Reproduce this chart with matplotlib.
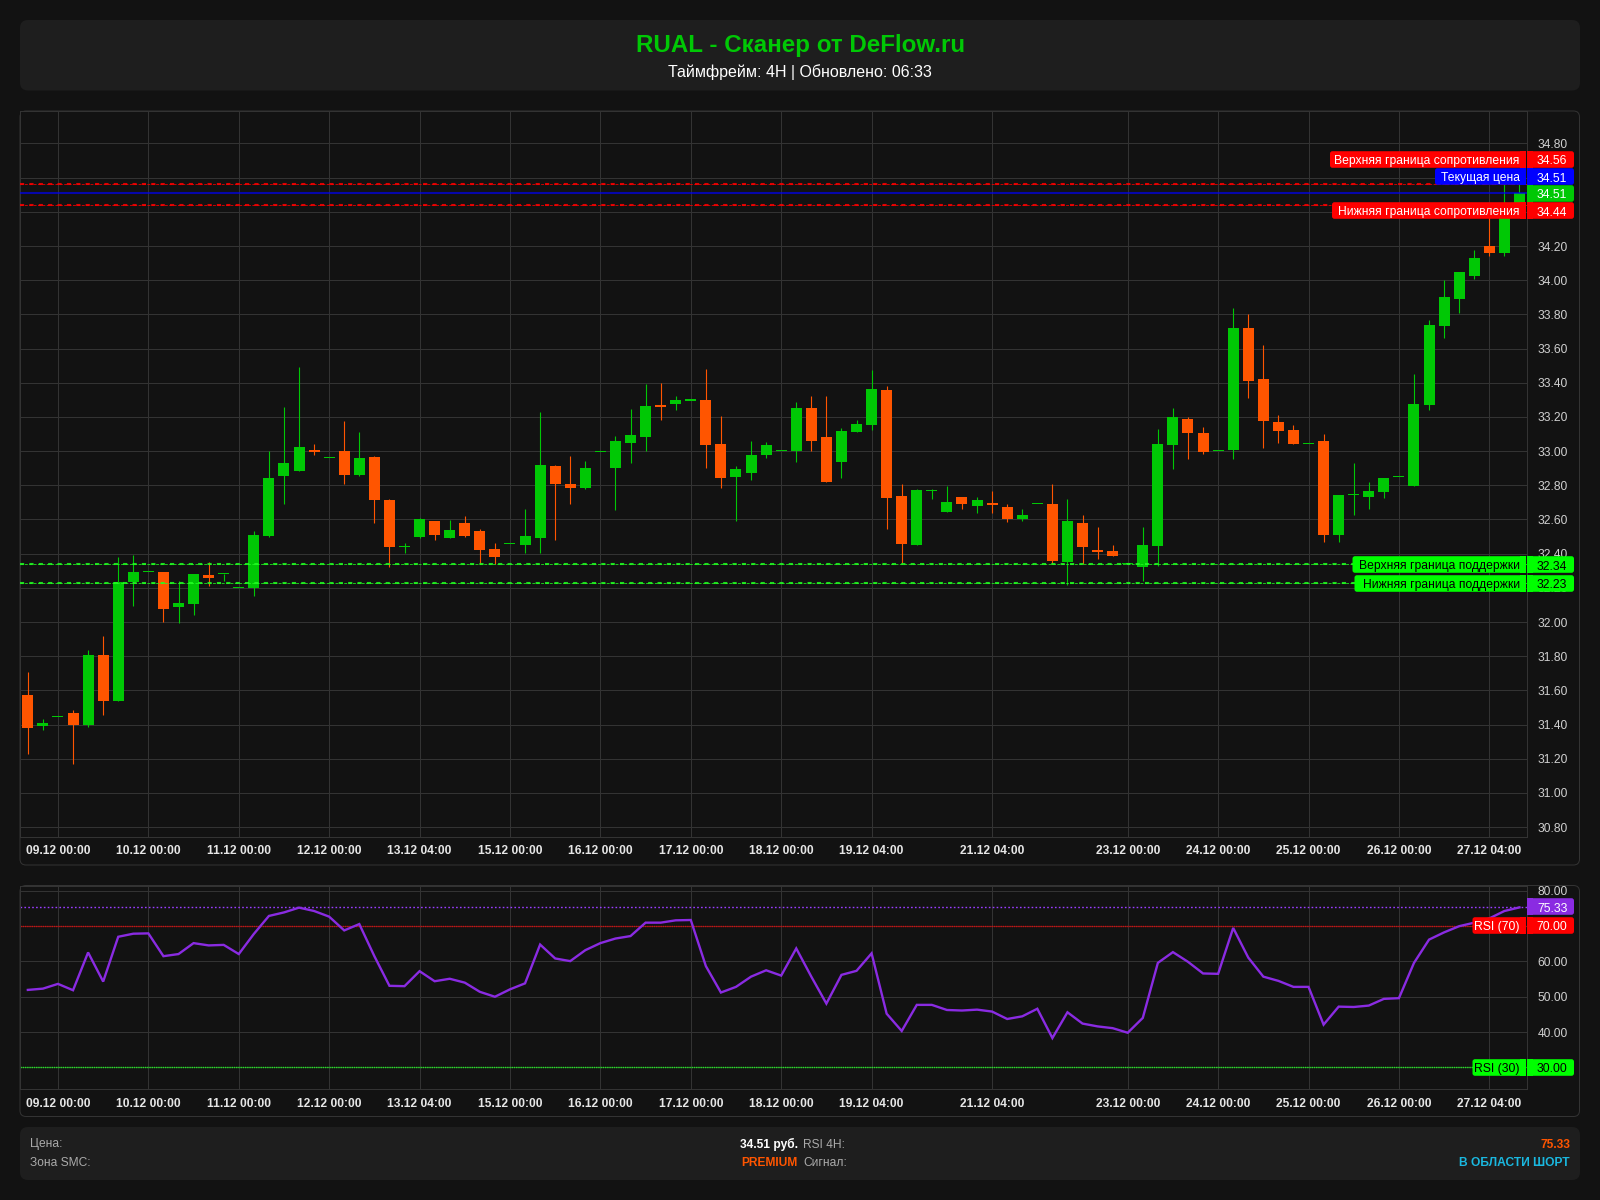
import matplotlib
matplotlib.use('Agg')
import matplotlib.pyplot as plt
from matplotlib.patches import FancyBboxPatch, Rectangle
from matplotlib.transforms import Bbox
import numpy as np

plt.rcParams['font.family'] = ['Liberation Sans', 'DejaVu Sans']

W, H = 1600, 1200
BG = '#121212'
PANEL = '#1e1e1e'
GRID = '#333333'
GREEN = '#00c805'
ORANGE = '#ff5500'
PURPLE = '#8a2be2'

tick_pos = [2, 8, 14, 20, 26, 32, 38, 44, 50, 56, 64, 73, 79, 85, 91, 97]
tick_labels = ['09.12 00:00', '10.12 00:00', '11.12 00:00', '12.12 00:00', '13.12 04:00',
               '15.12 00:00', '16.12 00:00', '17.12 00:00', '18.12 00:00', '19.12 04:00',
               '21.12 04:00', '23.12 00:00', '24.12 00:00', '25.12 00:00', '26.12 00:00',
               '27.12 04:00']

opens = [31.57, 31.39, 31.445, 31.47, 31.40, 31.806, 31.54, 32.234, 32.29, 32.293,
         32.087, 32.105, 32.275, 32.279, 32.20, 32.20, 32.504, 32.856, 32.885, 33.008,
         32.96, 33.00, 32.862, 32.967, 32.715, 32.44, 32.498, 32.592, 32.492, 32.58,
         32.533, 32.428, 32.455, 32.45, 32.494, 32.91, 32.805, 32.787, 32.996, 32.904,
         33.045, 33.08, 33.268, 33.274, 33.295, 33.297, 33.039, 32.846, 32.869, 32.98,
         33.002, 32.998, 33.25, 33.08, 32.939, 33.11, 33.151, 33.356, 32.74, 32.453,
         32.767, 32.646, 32.734, 32.676, 32.699, 32.675, 32.60, 32.691, 32.693, 32.353,
         32.582, 32.424, 32.418, 32.341, 32.324, 32.447, 33.034, 33.186, 33.104, 33.00,
         33.004, 33.72, 33.421, 33.168, 33.122, 33.043, 33.057, 32.512, 32.744, 32.734,
         32.758, 32.85, 32.793, 33.268, 33.732, 33.89, 34.025, 34.20, 34.159, 34.44]
closes = [31.38, 31.41, 31.445, 31.395, 31.806, 31.54, 32.234, 32.293, 32.29, 32.076,
          32.11, 32.281, 32.257, 32.279, 32.20, 32.51, 32.844, 32.932, 33.026, 32.997,
          32.96, 32.862, 32.961, 32.715, 32.44, 32.44, 32.60, 32.51, 32.539, 32.504,
          32.422, 32.381, 32.455, 32.504, 32.916, 32.805, 32.787, 32.904, 32.996, 33.057,
          33.092, 33.262, 33.256, 33.297, 33.295, 33.033, 32.84, 32.893, 32.975, 33.033,
          33.002, 33.25, 33.057, 32.822, 33.115, 33.156, 33.362, 32.728, 32.459, 32.775,
          32.767, 32.705, 32.693, 32.711, 32.687, 32.60, 32.629, 32.691, 32.359, 32.593,
          32.441, 32.412, 32.388, 32.341, 32.453, 33.039, 33.198, 33.104, 32.992, 33.00,
          33.72, 33.409, 33.174, 33.116, 33.039, 33.043, 32.512, 32.746, 32.744, 32.764,
          32.84, 32.85, 33.274, 33.737, 33.902, 34.048, 34.13, 34.159, 34.44, 34.51]
highs = [31.706, 31.435, 31.445, 31.487, 31.835, 31.917, 32.379, 32.394, 32.29, 32.293,
         32.238, 32.281, 32.35, 32.279, 32.20, 32.533, 33.00, 33.26, 33.49, 33.04,
         32.96, 33.177, 33.112, 32.973, 32.721, 32.46, 32.61, 32.592, 32.598, 32.62,
         32.545, 32.463, 32.455, 32.662, 33.231, 32.92, 32.973, 32.94, 32.996, 33.09,
         33.244, 33.391, 33.397, 33.32, 33.295, 33.479, 33.203, 32.91, 33.057, 33.051,
         33.002, 33.286, 33.321, 33.321, 33.133, 33.18, 33.473, 33.379, 32.81, 32.781,
         32.781, 32.793, 32.734, 32.734, 32.769, 32.693, 32.664, 32.691, 32.805, 32.722,
         32.629, 32.553, 32.453, 32.341, 32.553, 33.127, 33.251, 33.198, 33.139, 33.00,
         33.835, 33.802, 33.62, 33.21, 33.151, 33.043, 33.098, 32.746, 32.928, 32.817,
         32.84, 32.85, 33.45, 33.767, 34.00, 34.048, 34.177, 34.40, 34.56, 34.56]
lows = [31.225, 31.37, 31.445, 31.167, 31.385, 31.454, 31.536, 32.093, 32.29, 32.00,
        31.996, 32.043, 32.21, 32.24, 32.20, 32.15, 32.496, 32.692, 32.885, 32.98,
        32.96, 32.809, 32.856, 32.578, 32.324, 32.404, 32.49, 32.48, 32.492, 32.498,
        32.34, 32.34, 32.455, 32.404, 32.402, 32.482, 32.693, 32.781, 32.996, 32.658,
        32.928, 32.998, 33.18, 33.239, 33.295, 32.904, 32.787, 32.593, 32.828, 32.957,
        33.002, 32.934, 33.00, 32.822, 32.84, 33.11, 33.121, 32.546, 32.345, 32.453,
        32.717, 32.646, 32.664, 32.635, 32.635, 32.588, 32.593, 32.691, 32.341, 32.218,
        32.342, 32.371, 32.388, 32.341, 32.242, 32.33, 32.893, 32.951, 32.981, 33.00,
        32.951, 33.309, 33.016, 33.045, 33.039, 33.043, 32.47, 32.47, 32.629, 32.664,
        32.723, 32.85, 32.793, 33.239, 33.664, 33.806, 34.007, 34.144, 34.144, 34.42]

rsi = [51.94, 52.3, 53.65, 51.85, 62.56, 54.3, 67.0, 67.87, 67.96, 61.5,
       62.1, 65.2, 64.55, 64.7, 62.1, 67.8, 72.9, 73.9, 75.26, 74.3,
       72.7, 68.8, 70.6, 61.5, 53.1, 53.0, 57.25, 54.4, 55.1, 54.0,
       51.4, 50.0, 52.1, 53.8, 64.8, 60.85, 60.1, 63.2, 65.2, 66.5,
       67.2, 71.0, 71.0, 71.66, 71.75, 58.7, 51.2, 52.8, 55.7, 57.5,
       56.0, 63.7, 55.7, 48.06, 56.2, 57.35, 62.3, 45.2, 40.3, 47.7,
       47.7, 46.25, 46.1, 46.35, 45.8, 43.7, 44.45, 46.6, 38.3, 45.6,
       42.4, 41.6, 41.1, 39.8, 44.0, 59.6, 62.65, 59.9, 56.6, 56.5,
       69.5, 61.1, 55.7, 54.5, 52.8, 52.8, 42.1, 47.2, 47.1, 47.5,
       49.4, 49.6, 59.6, 66.2, 68.25, 70.0, 71.0, 72.2, 74.3, 75.33]

resist_levels = [34.56, 34.44]
support_levels = [32.34, 32.23]
current_price = 34.51
price_ticks = [30.8 + 0.2 * k for k in range(21)]
rsi_ticks = [30, 40, 50, 60, 70, 80]

fig = plt.figure(figsize=(16, 12), dpi=100, facecolor=BG)


def add_pane(left, top, right, bottom, z=1):
    return fig.add_axes([left / W, 1 - bottom / H, (right - left) / W, (bottom - top) / H], zorder=z)


bg = add_pane(0, 0, W, H, 0)
bg.set_xlim(0, W)
bg.set_ylim(H, 0)
bg.axis('off')
ov = add_pane(0, 0, W, H, 5)
ov.set_xlim(0, W)
ov.set_ylim(H, 0)
ov.axis('off')
ov.patch.set_alpha(0)


def box(ax, x0, y0, x1, y1, r, fc, ec='none', lw=0, z=1):
    ax.add_patch(FancyBboxPatch((x0 + r, y0 + r), x1 - x0 - 2 * r, y1 - y0 - 2 * r,
                                boxstyle='round,pad=%f,rounding_size=%f' % (r, r),
                                fc=fc, ec=ec, lw=lw, zorder=z))


# header, footer and chart frames
box(bg, 20, 20, 1580, 90.5, 8, PANEL)
box(bg, 20, 1127, 1580, 1180, 8, PANEL)
box(bg, 20, 111, 1579.5, 865, 6, BG, GRID, 0.72)
box(bg, 20, 885.5, 1579.5, 1116.5, 6, BG, GRID, 0.72)
bg.text(800, 45.5, 'RUAL - Сканер от DeFlow.ru', color=GREEN, fontsize=17.4, fontweight='bold', ha='center', va='center')
bg.text(800, 72, 'Таймфрейм: 4H | Обновлено: 06:33', color='white', fontsize=11.5, ha='center', va='center')

bg.text(30, 1144.5, 'Цена:', color='#aaaaaa', fontsize=8.64, va='center')
bg.text(30, 1163.5, 'Зона SMC:', color='#aaaaaa', fontsize=8.64, va='center')
bg.text(798, 1144.5, '34.51 руб.', color='white', fontsize=8.64, fontweight='bold', ha='right', va='center')
bg.text(798, 1163.5, 'PREMIUM', color=ORANGE, fontsize=8.64, fontweight='bold', ha='right', va='center')
bg.text(803, 1144.5, 'RSI 4H:', color='#aaaaaa', fontsize=8.64, va='center')
bg.text(803, 1163.5, 'Сигнал:', color='#aaaaaa', fontsize=8.64, va='center')
bg.text(1570, 1144.5, '75.33', color=ORANGE, fontsize=8.64, fontweight='bold', ha='right', va='center')
bg.text(1570, 1163.5, 'В ОБЛАСТИ ШОРТ', color='#1ab8e0', fontsize=8.64, fontweight='bold', ha='right', va='center')

ax = add_pane(20, 111, 1527.3, 837, 2)
ax2 = add_pane(20, 885.5, 1527.3, 1088.5, 2)
for a in (ax, ax2):
    a.set_facecolor(BG)
    a.set_xlim(-0.52, 99.52)
    a.set_xticks(tick_pos)
    a.set_xticklabels(tick_labels, fontweight='bold', fontsize=8.64, color='#e6e6e6')
    a.yaxis.tick_right()
    a.tick_params(axis='both', length=0)
    a.tick_params(axis='y', pad=7.2, labelsize=8.64, labelcolor='#d0d0d0')
    a.grid(True, color=GRID, lw=0.72)
    a.set_axisbelow(True)
    for s in a.spines.values():
        s.set_color(GRID)
        s.set_linewidth(0.72)
ax.tick_params(axis='x', pad=5.8)
ax2.tick_params(axis='x', pad=6.5)

ax.set_ylim(30.742, 34.99)
ax.set_yticks(price_ticks)
ax.set_yticklabels(['%.2f' % p for p in price_ticks])
ax2.set_ylim(24.0, 81.53)
ax2.set_yticks(rsi_ticks)
ax2.set_yticklabels(['%.2f' % r for r in rsi_ticks])
for lbl in ax2.get_yticklabels():
    lbl.set_clip_box(Bbox([[1527, H - 1117], [1580, H - 886]]))
    lbl.set_clip_on(True)

# candles
o = np.array(opens)
c = np.array(closes)
h = np.array(highs)
l = np.array(lows)
idx = np.arange(len(o))
cols = [GREEN if c[i] >= o[i] else ORANGE for i in idx]
ax.vlines(idx, l, h, colors=cols, lw=0.8, zorder=2)
ax.bar(idx, np.maximum(np.abs(c - o), 0.007), bottom=np.minimum(o, c), width=0.73, color=cols, lw=0, zorder=3)


def level(a, y, color, lw=1.5):
    a.axhline(y, color=color, lw=0.7, ls=(0, (3, 1.5)), alpha=0.75, zorder=4)
    a.axhline(y, color=color, lw=lw, ls=(0, (2, 2.5)), alpha=0.85, zorder=4)


for p in resist_levels:
    level(ax, p, '#ff0000')
ax.axhline(current_price, color='#0000ff', lw=1.5, alpha=0.65, zorder=4)
for p in support_levels:
    level(ax, p, '#22ff22')

# rsi pane
ax2.plot(idx, rsi, color=PURPLE, lw=1.7, zorder=3, solid_joinstyle='miter')
ax2.axhline(rsi[-1], color='#9a3cff', lw=1.0, ls=(0, (1.2, 1.6)), zorder=2)
ax2.axhline(70, color='#ff0000', lw=1.0, ls=(0, (1, 0.6)), alpha=0.8, zorder=2)
ax2.axhline(30, color='#22ff22', lw=1.0, ls=(0, (1, 0.6)), alpha=0.9, zorder=2)


def tag(x0, x1, yc, fc, text, tc, side):
    y0, y1 = yc - 8.3, yc + 8.3
    box(ov, x0, y0, x1, y1, 2.5, fc, z=6)
    if side == 'left':
        ov.add_patch(Rectangle((x1 - 6, y0), 6, y1 - y0, fc=fc, lw=0, zorder=6))
        ov.text(x1 - 6.3, yc + 4.5, text, color=tc, fontsize=8.78, ha='right', va='baseline', zorder=7)
    else:
        ov.add_patch(Rectangle((x0, y0), 6, y1 - y0, fc=fc, lw=0, zorder=6))
        ov.text(1552.2, yc + 5, text, color=tc, fontsize=8.7, ha='center', va='baseline', zorder=7)


RED = '#ff0000'
LIME = '#00ff00'
tag(1330, 1526, 159.5, RED, 'Верхняя граница сопротивления', 'white', 'left')
tag(1527.3, 1574, 159.5, RED, '34.56', 'white', 'right')
tag(1435, 1526, 176.5, '#0000ff', 'Текущая цена', 'white', 'left')
tag(1527.3, 1574, 176.5, '#0000ff', '34.51', 'white', 'right')
tag(1527.3, 1574, 193.5, GREEN, '34.51', 'white', 'right')
tag(1332, 1526, 210.5, RED, 'Нижняя граница сопротивления', 'white', 'left')
tag(1527.3, 1574, 210.5, RED, '34.44', 'white', 'right')
tag(1352.5, 1526, 564.5, LIME, 'Верхняя граница поддержки', 'black', 'left')
tag(1527.3, 1574, 564.5, LIME, '32.34', 'black', 'right')
tag(1354.5, 1526, 583.5, LIME, 'Нижняя граница поддержки', 'black', 'left')
tag(1527.3, 1574, 583.5, LIME, '32.23', 'black', 'right')
tag(1527.3, 1574, 906.5, PURPLE, '75.33', 'white', 'right')
tag(1472.5, 1526, 925.5, RED, 'RSI (70)', 'white', 'left')
tag(1527.3, 1574, 925.5, RED, '70.00', 'white', 'right')
tag(1472.5, 1526, 1067.5, LIME, 'RSI (30)', 'black', 'left')
tag(1527.3, 1574, 1067.5, LIME, '30.00', 'black', 'right')

fig.savefig('out.png', dpi=100, facecolor=BG)
